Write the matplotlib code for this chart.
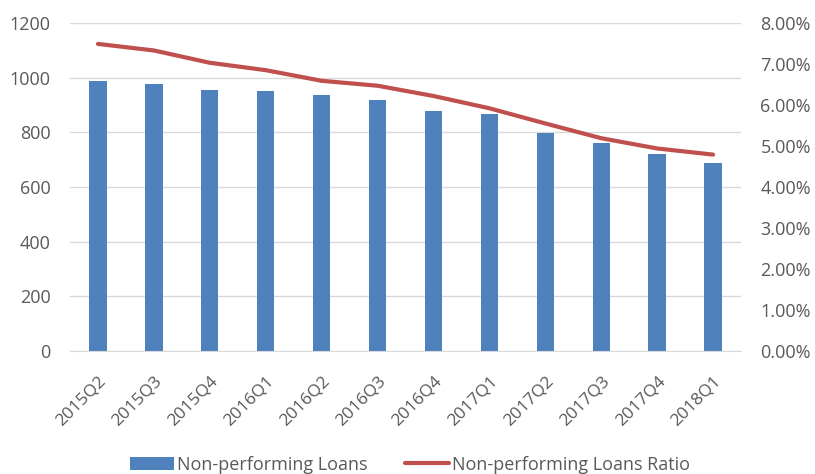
import matplotlib.pyplot as plt
from matplotlib.ticker import FuncFormatter

quarters = ['2015Q2', '2015Q3', '2015Q4', '2016Q1', '2016Q2', '2016Q3',
            '2016Q4', '2017Q1', '2017Q2', '2017Q3', '2017Q4', '2018Q1']
npl = [988, 976, 955, 950, 935, 917, 879, 866, 796, 760, 720, 689]
npl_ratio = [7.49, 7.33, 7.03, 6.85, 6.59, 6.47, 6.22, 5.92, 5.55, 5.19, 4.94, 4.79]

plt.rcParams['font.family'] = ['Open Sans', 'DejaVu Sans']
txt = '#595959'

fig = plt.figure(figsize=(8.15, 4.74), dpi=100)
ax = fig.add_axes([70 / 815, 1 - 351 / 474, 671 / 815, 328 / 474])
ax2 = ax.twinx()

x = range(len(quarters))
bars = ax.bar(x, npl, width=0.31, color='#4f81bd', zorder=2,
              label='Non-performing Loans')
line, = ax2.plot(x, npl_ratio, color='#c0504d', lw=3,
                 solid_joinstyle='round', solid_capstyle='round',
                 label='Non-performing Loans Ratio')

ax.set_xlim(-0.5, 11.5)
ax.set_ylim(0, 1200)
ax.set_yticks(range(0, 1201, 200))
ax2.set_ylim(0, 8)
ax2.set_yticks(range(0, 9))
ax2.yaxis.set_major_formatter(FuncFormatter(lambda v, p: '%.2f%%' % v))

ax.grid(axis='y', color='#d9d9d9', lw=1, zorder=0)
ax.set_axisbelow(True)
for a in (ax, ax2):
    for s in a.spines.values():
        s.set_visible(False)
    a.tick_params(length=0, labelsize=13, colors=txt)
ax.spines['bottom'].set_visible(True)
ax.spines['bottom'].set_color('#d9d9d9')

ax.set_xticks(list(x))
ax.set_xticklabels(quarters, rotation=45, ha='right', rotation_mode='anchor')
ax.tick_params(axis='x', labelsize=12.5, pad=16)
ax.tick_params(axis='y', pad=14)
ax2.tick_params(axis='y', pad=14)

fig.legend([bars, line], ['Non-performing Loans', 'Non-performing Loans Ratio'],
           loc='center', bbox_to_anchor=(0.503, 0.02), ncol=2, frameon=False,
           fontsize=13, labelcolor=txt, handlelength=2.45, handletextpad=0.15,
           columnspacing=2.1)

fig.savefig('out.png', dpi=100)
